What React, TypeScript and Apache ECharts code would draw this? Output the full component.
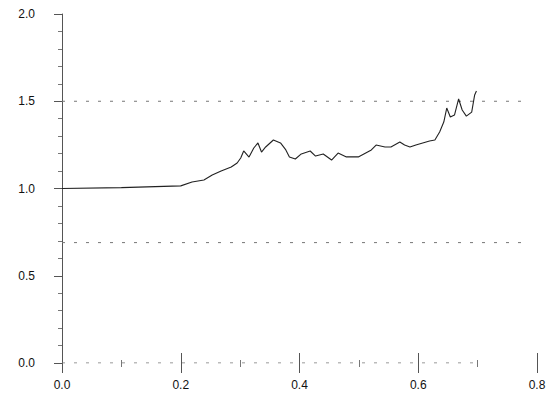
import React, { useEffect, useRef } from "react";
import * as echarts from "echarts";

const xValues = [0, 0.1, 0.2, 0.219, 0.239, 0.253, 0.268, 0.285, 0.295, 0.301, 0.306, 0.315, 0.323, 0.33, 0.336, 0.343, 0.356, 0.368, 0.377, 0.383, 0.393, 0.403, 0.418, 0.427, 0.44, 0.454, 0.465, 0.479, 0.499, 0.521, 0.529, 0.544, 0.554, 0.569, 0.577, 0.586, 0.596, 0.619, 0.628, 0.636, 0.643, 0.648, 0.654, 0.661, 0.668, 0.674, 0.681, 0.69, 0.695, 0.698];
const yValues = [1.0, 1.005, 1.015, 1.037, 1.049, 1.077, 1.1, 1.123, 1.146, 1.175, 1.215, 1.18, 1.232, 1.261, 1.209, 1.238, 1.278, 1.261, 1.221, 1.181, 1.169, 1.198, 1.215, 1.186, 1.198, 1.163, 1.203, 1.181, 1.181, 1.221, 1.249, 1.238, 1.238, 1.266, 1.249, 1.238, 1.249, 1.272, 1.278, 1.324, 1.381, 1.461, 1.41, 1.421, 1.513, 1.45, 1.415, 1.438, 1.536, 1.559];

const refLevels = [1.5, 0.69, 0];
const refEnds = [0.78, 0.78, 0.7];

const xTicks = [0, 0.2, 0.4, 0.6, 0.8];
const yTicks = [0, 0.5, 1.0, 1.5, 2.0];

export default function App() {
  const ref = useRef<HTMLDivElement>(null);
  useEffect(() => {
    if (!ref.current) return;
    const chart = echarts.init(ref.current, undefined, { renderer: "svg" });
    const font = "'Liberation Sans', Arial, sans-serif";
    const refSeries = refLevels.map((lv, i) => ({
      type: "line",
      data: [[0, lv], [refEnds[i], lv]],
      showSymbol: false,
      silent: true,
      lineStyle: { color: "#777", width: 1, type: [3, 9] },
      z: 1,
    }));
    const baseX = {
      type: "value",
      min: xTicks[0],
      max: xTicks[xTicks.length - 1],
      interval: 0.2,
      splitLine: { show: false },
      axisLine: { show: false },
    };
    chart.setOption({
      animation: false,
      backgroundColor: "#fff",
      grid: { left: 62, right: 17, top: 14, bottom: 30, containLabel: false },
      xAxis: [
        {
          ...baseX,
          axisTick: { show: true, inside: false, length: 10, lineStyle: { color: "#555" } },
          minorTick: { show: true, splitNumber: 2, length: 4, lineStyle: { color: "#777" } },
          axisLabel: {
            margin: 16,
            color: "#111",
            fontSize: 12,
            fontFamily: font,
            formatter: (v: number) => v.toFixed(1),
          },
        },
        {
          ...baseX,
          position: "bottom",
          axisTick: { show: true, inside: true, length: 10, lineStyle: { color: "#555" } },
          minorTick: { show: true, splitNumber: 2, length: 3, lineStyle: { color: "#777" } },
          axisLabel: { show: false },
        },
      ],
      yAxis: {
        type: "value",
        min: yTicks[0],
        max: yTicks[yTicks.length - 1],
        interval: 0.5,
        splitLine: { show: false },
        axisLine: { show: true, lineStyle: { color: "#555", width: 1 } },
        axisTick: { show: true, inside: false, length: 8, lineStyle: { color: "#555" } },
        minorTick: { show: true, splitNumber: 5, length: 4, lineStyle: { color: "#777" } },
        axisLabel: {
          margin: 27,
          color: "#111",
          fontSize: 12,
          fontFamily: font,
          formatter: (v: number) => v.toFixed(1),
        },
      },
      series: [
        ...refSeries,
        {
          type: "line",
          data: xValues.map((x, i) => [x, yValues[i]]),
          showSymbol: false,
          lineStyle: { color: "#222", width: 1.1 },
          z: 3,
        },
      ],
    });
    return () => chart.dispose();
  }, []);
  return (
    <div
      ref={ref}
      style={{ position: "fixed", left: 0, top: 0, width: 554, height: 393 }}
    />
  );
}
